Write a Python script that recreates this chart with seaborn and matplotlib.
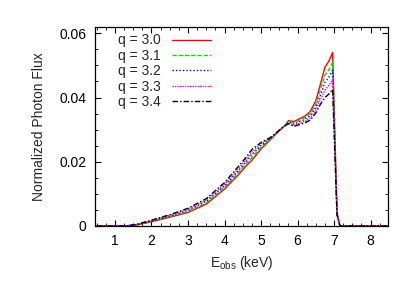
import matplotlib
matplotlib.use('Agg')
import matplotlib.pyplot as plt
import seaborn as sns
from matplotlib.ticker import MultipleLocator, FuncFormatter

# Observed energy grid (keV) and normalized photon flux for each q
energy = [0.5, 1.3, 1.6, 2.0, 2.5, 3.0, 3.5, 4.0, 4.4, 4.6, 4.75, 5.0, 5.25,
          5.5, 5.65, 5.75, 5.9, 6.2, 6.35, 6.5, 6.62, 6.75, 6.85, 6.96, 7.08, 7.16, 8.5]
flux_q30 = [0, 0, 0.0003, 0.0013, 0.0027, 0.0042, 0.0068, 0.0115, 0.0162, 0.0188,
            0.0205, 0.0240, 0.0268, 0.0297, 0.0312, 0.0328, 0.0325, 0.0342, 0.0357,
            0.0390, 0.0439, 0.0495, 0.0512, 0.0540, 0.0040, 0, 0]
flux_q31 = [0, 0, 0.0004, 0.0014, 0.0029, 0.0045, 0.0072, 0.0120, 0.0169, 0.0195,
            0.0213, 0.0246, 0.0270, 0.0297, 0.0312, 0.0325, 0.0321, 0.0337, 0.0350,
            0.0380, 0.0422, 0.0470, 0.0485, 0.0510, 0.0038, 0, 0]
flux_q32 = [0, 0, 0.0004, 0.0015, 0.0031, 0.0049, 0.0077, 0.0125, 0.0175, 0.0202,
            0.0222, 0.0251, 0.0272, 0.0298, 0.0312, 0.0323, 0.0317, 0.0332, 0.0344,
            0.0370, 0.0405, 0.0447, 0.0462, 0.0485, 0.0037, 0, 0]
flux_q33 = [0, 0, 0.0005, 0.0017, 0.0033, 0.0052, 0.0081, 0.0130, 0.0181, 0.0208,
            0.0230, 0.0256, 0.0274, 0.0298, 0.0312, 0.0320, 0.0313, 0.0326, 0.0337,
            0.0361, 0.0392, 0.0423, 0.0437, 0.0456, 0.0036, 0, 0]
flux_q34 = [0, 0, 0.0005, 0.0018, 0.0035, 0.0055, 0.0085, 0.0135, 0.0188, 0.0215,
            0.0238, 0.0260, 0.0275, 0.0298, 0.0312, 0.0318, 0.0310, 0.0321, 0.0330,
            0.0352, 0.0378, 0.0400, 0.0410, 0.0425, 0.0035, 0, 0]

labels = ['q = 3.0', 'q = 3.1', 'q = 3.2', 'q = 3.3', 'q = 3.4']
series = [flux_q30, flux_q31, flux_q32, flux_q33, flux_q34]
colors = ['#ff0000', '#00dd00', '#0000ff', '#ff00ff', '#000000']
dashes = [(None, None), (3, 1.5), (1, 1.5), (1, 0.8), (4, 1.5, 1, 1.5)]

sns.set_style('ticks')
plt.rcParams['font.family'] = ['Liberation Sans', 'DejaVu Sans']
plt.rcParams['font.size'] = 10

fig = plt.figure(figsize=(4.09, 2.86), dpi=100)
ax = fig.add_axes([0.232, 0.21, 0.717, 0.696])

for lab, vals, col, d in zip(labels, series, colors, dashes):
    sns.lineplot(x=energy, y=vals, color=col, linewidth=1.0, label=lab, ax=ax)
    if d[0] is not None:
        ax.lines[-1].set_dashes(d)

ax.set_xlim(0.45, 8.48)
ax.set_ylim(0, 0.062)
ax.xaxis.set_major_locator(MultipleLocator(1))
ax.xaxis.set_minor_locator(MultipleLocator(0.25))
ax.yaxis.set_major_locator(MultipleLocator(0.02))
ax.yaxis.set_minor_locator(MultipleLocator(0.005))
ax.yaxis.set_major_formatter(FuncFormatter(lambda v, _: '0' if v == 0 else f'{v:.2f}'))
ax.tick_params(which='both', direction='in', top=True, right=True, colors='black',
               labelsize=10, pad=6)
ax.tick_params(which='major', length=4, width=0.8)
ax.tick_params(which='minor', length=2, width=0.6)
for s in ax.spines.values():
    s.set_visible(True)
    s.set_linewidth(0.9)
    s.set_color('black')

ax.set_xlabel(r'$\mathregular{E_{obs}}$ (keV)', fontsize=10, labelpad=4)
ax.set_ylabel('Normalized Photon Flux', fontsize=10, labelpad=10)

ax.legend(loc='upper left', bbox_to_anchor=(0.06, 0.995), frameon=False,
          markerfirst=False, handlelength=2.8, labelspacing=0.1, fontsize=10,
          handletextpad=0.8, borderaxespad=0)

fig.savefig('out.png', dpi=100)
